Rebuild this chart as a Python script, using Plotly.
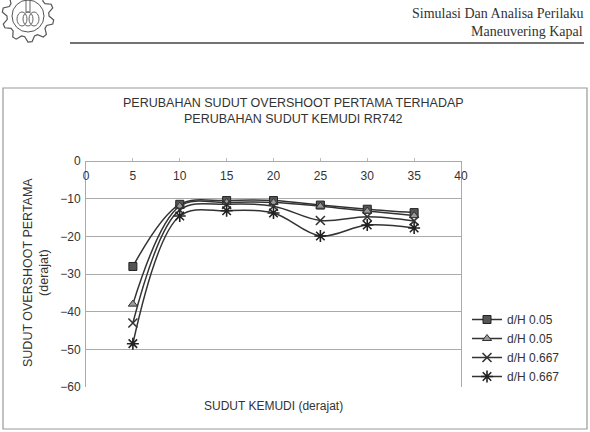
import math
import plotly.graph_objects as go

# ---- data ----
sudut_kemudi = [5, 10, 15, 20, 25, 30, 35]
s1_name = "d/H 0.05"
s1_vals = [-28, -11.5, -10.5, -10.5, -11.7, -12.8, -13.7]
s2_name = "d/H 0.05"
s2_vals = [-38, -12, -11, -11, -12, -13.3, -14.5]
s3_name = "d/H 0.667"
s3_vals = [-43, -13, -11.5, -12, -15.8, -14.8, -15.9]
s4_name = "d/H 0.667"
s4_vals = [-48.5, -14.6, -13.2, -13.8, -19.9, -17, -17.8]
x_ticks = [0, 5, 10, 15, 20, 25, 30, 35, 40]
y_ticks = [0, -10, -20, -30, -40, -50, -60]

W, H = 590, 432
L, R, T, B = 86, 461, 161, 387


def px(x):
    return (x - L) / (R - L)


def py(y):
    return (B - y) / (B - T)


fig = go.Figure()
styles = [
    (s1_name, s1_vals, dict(symbol="square", size=8, color="#555", line=dict(color="#222", width=1))),
    (s2_name, s2_vals, dict(symbol="triangle-up", size=8, color="#999", line=dict(color="#333", width=1))),
    (s3_name, s3_vals, dict(symbol="x-thin", size=9, color="#333", line=dict(color="#333", width=1.6))),
    (s4_name, s4_vals, dict(symbol="asterisk", size=10, color="#222", line=dict(color="#222", width=1.6))),
]
for name, vals, mk in styles:
    fig.add_trace(go.Scatter(
        x=sudut_kemudi, y=vals, name=name, mode="lines+markers",
        line=dict(color="#333", width=1.5, shape="spline", smoothing=1),
        marker=mk,
    ))

fig.update_xaxes(
    range=[0, 40], tickvals=x_ticks, side="bottom", anchor="free", position=1,
    showgrid=False, zeroline=False, showline=True,
    linecolor="#aaa", linewidth=1, mirror=False, ticks="inside", ticklen=3,
    tickcolor="#bbb", ticklabelstandoff=4,
    tickfont=dict(family="Liberation Sans", size=12, color="#333"),
)
fig.update_yaxes(
    range=[-60, 0], tickvals=y_ticks, showgrid=True, gridcolor="#aaa",
    gridwidth=1, zeroline=False, showline=True, linecolor="#aaa", linewidth=1,
    mirror=True, ticks="", ticklabelstandoff=2,
    tickfont=dict(family="Liberation Sans", size=12, color="#333"),
)

shapes = []
# chart box
shapes.append(dict(type="rect", xref="paper", yref="paper",
                   x0=px(3), x1=px(587), y0=py(429), y1=py(88),
                   line=dict(color="#999", width=1.2), layer="below"))
# header rule
shapes.append(dict(type="line", xref="paper", yref="paper",
                   x0=px(70), x1=px(584), y0=py(43), y1=py(43),
                   line=dict(color="#444", width=1.5)))
# logo: gear outline
cx, cy = 28, 16
pts = []
n = 10
for i in range(n * 4):
    a = 2 * math.pi * i / (n * 4)
    r = 26 if (i % 4) in (1, 2) else 21
    pts.append((cx + r * math.cos(a), cy + r * math.sin(a)))
path = "M " + " L ".join(f"{px(x):.5f},{py(y):.5f}" for x, y in pts) + " Z"
shapes.append(dict(type="path", xref="paper", yref="paper", path=path,
                   line=dict(color="#555", width=1.2)))
shapes.append(dict(type="circle", xref="paper", yref="paper",
                   x0=px(cx - 16), x1=px(cx + 16), y0=py(cy + 16), y1=py(cy - 16),
                   line=dict(color="#555", width=1)))
# lotus petals
for dx, w in [(0, 5), (-6, 5), (6, 5)]:
    shapes.append(dict(type="circle", xref="paper", yref="paper",
                       x0=px(cx + dx - w), x1=px(cx + dx + w),
                       y0=py(cy + 10), y1=py(cy - 4),
                       line=dict(color="#666", width=1)))
shapes.append(dict(type="rect", xref="paper", yref="paper",
                   x0=px(cx - 2), x1=px(cx + 2), y0=py(cy - 4), y1=py(0),
                   line=dict(color="#666", width=1)))

annotations = [
    dict(text="Simulasi Dan Analisa Perilaku", x=px(585), y=py(13), xref="paper", yref="paper",
         xanchor="right", yanchor="middle", showarrow=False,
         font=dict(family="Liberation Serif", size=14, color="#333")),
    dict(text="Maneuvering Kapal", x=px(585), y=py(32), xref="paper", yref="paper",
         xanchor="right", yanchor="middle", showarrow=False,
         font=dict(family="Liberation Serif", size=14, color="#333")),
    dict(text="PERUBAHAN SUDUT OVERSHOOT PERTAMA TERHADAP<br>PERUBAHAN SUDUT KEMUDI RR742",
         x=px(293), y=py(111), xref="paper", yref="paper", xanchor="center", yanchor="middle",
         showarrow=False, font=dict(family="Liberation Sans", size=12.5, color="#333")),
    dict(text="SUDUT OVERSHOOT PERTAMA<br>(derajat)", x=px(36), y=py(273), xref="paper", yref="paper",
         xanchor="center", yanchor="middle", textangle=-90, showarrow=False,
         font=dict(family="Liberation Sans", size=12.5, color="#333")),
    dict(text="SUDUT KEMUDI (derajat)", x=px(273), y=py(406), xref="paper", yref="paper",
         xanchor="center", yanchor="middle", showarrow=False,
         font=dict(family="Liberation Sans", size=12, color="#333")),
]

fig.update_layout(
    width=W, height=H, autosize=False,
    margin=dict(l=L, r=W - R, t=T, b=H - B),
    paper_bgcolor="white", plot_bgcolor="white",
    showlegend=True,
    legend=dict(x=px(467), y=py(305), xanchor="left", yanchor="top",
                font=dict(family="Liberation Sans", size=12, color="#333"),
                bgcolor="rgba(0,0,0,0)", itemwidth=30, tracegroupgap=0),
    shapes=shapes, annotations=annotations,
)

fig.write_html("out.html")
